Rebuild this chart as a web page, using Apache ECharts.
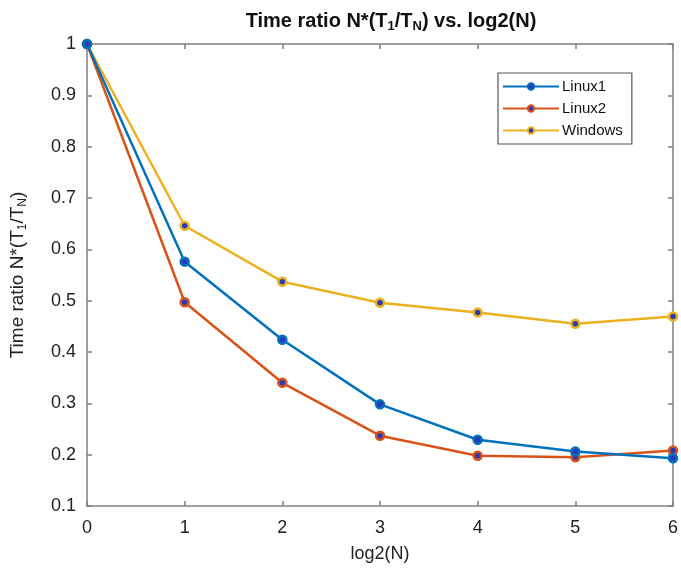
<!DOCTYPE html>
<html>
<head>
<meta charset="utf-8">
<script src="https://cdn.jsdelivr.net/npm/echarts@6/dist/echarts.min.js"></script>
<style>html,body{margin:0;padding:0;background:#fff}#c{width:681px;height:572px}</style>
</head>
<body>
<div id="c"></div>
<script>
const xValues = [0, 1, 2, 3, 4, 5, 6];
const linux1 = [1.0, 0.576, 0.424, 0.298, 0.229, 0.206, 0.193];
const linux2 = [1.0, 0.497, 0.340, 0.237, 0.198, 0.195, 0.208];
const windows = [1.0, 0.646, 0.537, 0.496, 0.477, 0.455, 0.469];
const seriesNames = ['Linux1', 'Linux2', 'Windows'];
const seriesColors = ['#0072BD', '#D95319', '#EDB120'];
const seriesData = [linux1, linux2, windows];

const FONT = 'Liberation Sans, Arial, Helvetica, sans-serif';
const chart = echarts.init(document.getElementById('c'));
const subRich = {
  n: { fontSize: 20, fontWeight: 'bold', fontFamily: FONT, color: '#111' },
  s: { fontSize: 13, fontWeight: 'bold', fontFamily: FONT, color: '#111', padding: [10, 0, 0, 0] }
};
const ySubRich = {
  n: { fontSize: 19, fontFamily: FONT, color: '#222' },
  s: { fontSize: 12, fontFamily: FONT, color: '#222', padding: [10, 0, 0, 0] }
};
const axisLineStyle = { color: '#808080', width: 1.5 };
chart.setOption({
  animation: false,
  backgroundColor: '#fff',
  title: {
    text: '{n|Time ratio N*(T}{s|1}{n|/T}{s|N}{n|) vs. log2(N)}',
    left: 386, top: 5, textAlign: 'center',
    textStyle: { rich: subRich }
  },
  legend: {
    orient: 'vertical', left: 498, top: 73,
    data: seriesNames,
    itemWidth: 56, itemHeight: 8, itemGap: 7,
    padding: [6, 9, 6, 4],
    borderColor: '#555', borderWidth: 1.2, borderRadius: 0,
    backgroundColor: '#fff',
    textStyle: { fontFamily: FONT, fontSize: 15, color: '#111', padding: [0, 0, 0, -2] }
  },
  grid: { left: 87, right: 8, top: 44, bottom: 66 },
  xAxis: [{
    type: 'value', min: 0, max: 6, interval: 1,
    name: 'log2(N)', nameLocation: 'middle', nameGap: 39,
    nameTextStyle: { fontFamily: FONT, fontSize: 18, color: '#222' },
    axisLine: { show: true, onZero: false, lineStyle: axisLineStyle },
    axisTick: { show: true, inside: true, length: 5, lineStyle: axisLineStyle },
    axisLabel: { fontFamily: FONT, fontSize: 18, color: '#222', margin: 13 },
    splitLine: { show: false }
  }, {
    type: 'value', min: 0, max: 6, interval: 1, position: 'top',
    axisLine: { show: true, onZero: false, lineStyle: axisLineStyle },
    axisTick: { show: true, inside: true, length: 5, lineStyle: axisLineStyle },
    axisLabel: { show: false }, splitLine: { show: false }
  }],
  yAxis: [{
    type: 'value', min: 0.1, max: 1, interval: 0.1,
    name: '{n|Time ratio N*(T}{s|1}{n|/T}{s|N}{n|)}',
    nameLocation: 'middle', nameRotate: 90, nameGap: 58,
    nameTextStyle: { rich: ySubRich },
    axisLine: { show: true, onZero: false, lineStyle: axisLineStyle },
    axisTick: { show: true, inside: true, length: 5, lineStyle: axisLineStyle },
    axisLabel: { fontFamily: FONT, fontSize: 18, color: '#222', margin: 11,
      formatter: v => (Math.abs(v - 1) < 1e-9 ? '1' : v.toFixed(1)) },
    splitLine: { show: false }
  }, {
    type: 'value', min: 0.1, max: 1, interval: 0.1, position: 'right',
    axisLine: { show: true, onZero: false, lineStyle: axisLineStyle },
    axisTick: { show: true, inside: true, length: 5, lineStyle: axisLineStyle },
    axisLabel: { show: false }, splitLine: { show: false }
  }],
  series: seriesNames.map((name, i) => ({
    name, type: 'line',
    data: xValues.map((x, j) => [x, seriesData[i][j]]),
    symbol: 'circle', symbolSize: 8,
    lineStyle: { color: seriesColors[i], width: 2.5 },
    itemStyle: { color: '#2a3bb5', borderColor: seriesColors[i], borderWidth: 2.5 },
    z: 10 - i
  }))
});
</script>
</body>
</html>
